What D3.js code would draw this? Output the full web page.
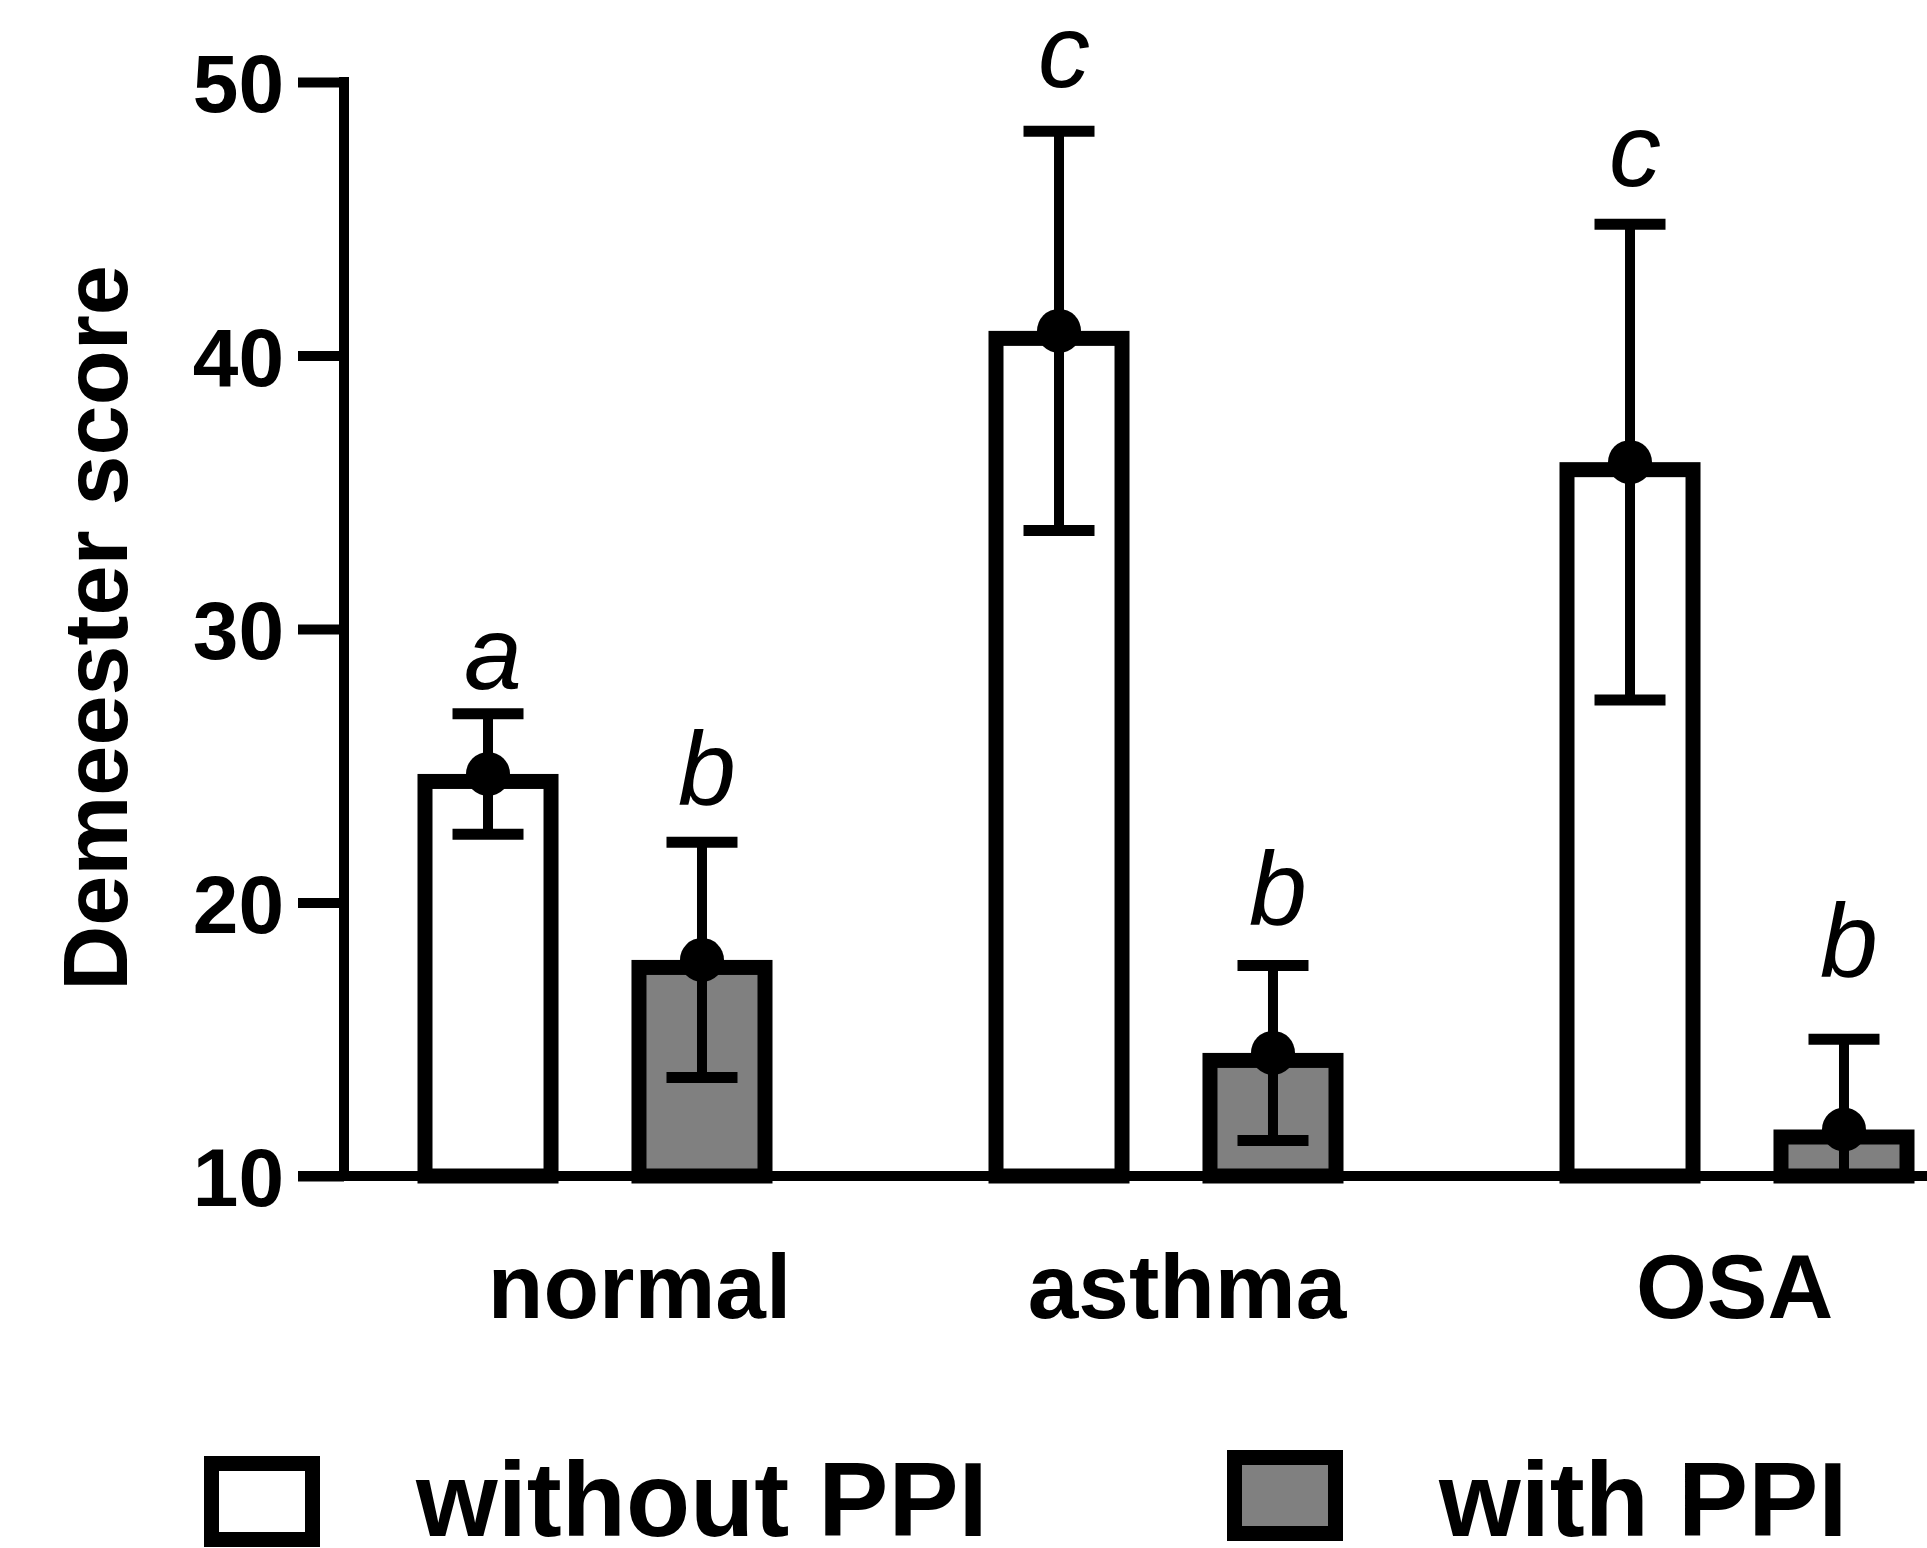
<!DOCTYPE html>
<html>
<head>
<meta charset="utf-8">
<script src="https://cdn.jsdelivr.net/npm/d3@7"></script>
<style>
  html, body { margin: 0; padding: 0; background: #fff; }
  svg { display: block; }
  text { font-family: "Liberation Sans", Arial, Helvetica, sans-serif; fill: #000; }
</style>
</head>
<body>
<svg id="chart" width="1927" height="1548"></svg>
<script>
// ---- data ----
const categories = ["normal", "asthma", "OSA"];
const series = ["without PPI", "with PPI"];
const withoutMean = [24.7, 40.9, 36.1];
const withoutSD = [2.2, 7.3, 8.7];
const withMean = [17.9, 14.5, 11.7];
const withSD = [4.3, 3.2, 3.3];
const withoutLetters = ["a", "c", "c"];
const withLetters = ["b", "b", "b"];
const withoutLetterAt = [27.8, 49.8, 46.2];   // letter baseline, in score units
const withLetterAt = [23.6, 19.2, 17.3];
const yTicks = [10, 20, 30, 40, 50];
const yLabel = "Demeester score";
const fills = ["#ffffff", "#808080"];

// ---- layout ----
const W = 1927, H = 1548;
const svg = d3.select("#chart");
const SW = 15; // bar outline width

const y = d3.scaleLinear().domain([10, 50]).range([1176, 82]);
const xGroup = d3.scalePoint().domain(categories).range([595, 1737]);
const xSeries = d3.scaleBand().domain(series).range([-177.5, 177.5]).paddingInner(0.341).paddingOuter(0);
const xLabel = d3.scalePoint().domain(categories).range([639, 1734]);

const rows = [];
categories.forEach((c, i) => {
  rows.push({cat: c, s: series[0], mean: withoutMean[i], sd: withoutSD[i], letter: withoutLetters[i], lAt: withoutLetterAt[i], fill: fills[0]});
  rows.push({cat: c, s: series[1], mean: withMean[i], sd: withSD[i], letter: withLetters[i], lAt: withLetterAt[i], fill: fills[1]});
});
const cx = d => xGroup(d.cat) + xSeries(d.s) + xSeries.bandwidth() / 2;

// clip to plot area (values below 10 hidden)
svg.append("defs").append("clipPath").attr("id", "plotclip")
  .append("rect").attr("x", 0).attr("y", 0).attr("width", W).attr("height", y(10));

// bars (outline drawn inside the value)
svg.append("g").selectAll("rect").data(rows).join("rect")
  .attr("x", d => xGroup(d.cat) + xSeries(d.s) + SW / 2)
  .attr("y", d => y(d.mean) + SW / 2)
  .attr("width", xSeries.bandwidth() - SW)
  .attr("height", d => y(10) - y(d.mean) - SW / 2)
  .attr("fill", d => d.fill)
  .attr("stroke", "#000")
  .attr("stroke-width", SW);

// error bars
const eb = svg.append("g").attr("clip-path", "url(#plotclip)");
eb.selectAll("line.stem").data(rows).join("line").attr("class", "stem")
  .attr("x1", cx).attr("x2", cx)
  .attr("y1", d => y(d.mean + d.sd)).attr("y2", d => y(d.mean - d.sd))
  .attr("stroke", "#000").attr("stroke-width", 10);
const capW = 71;
eb.selectAll("line.capT").data(rows).join("line").attr("class", "capT")
  .attr("x1", d => cx(d) - capW / 2).attr("x2", d => cx(d) + capW / 2)
  .attr("y1", d => y(d.mean + d.sd)).attr("y2", d => y(d.mean + d.sd))
  .attr("stroke", "#000").attr("stroke-width", 11);
eb.selectAll("line.capB").data(rows).join("line").attr("class", "capB")
  .attr("x1", d => cx(d) - capW / 2).attr("x2", d => cx(d) + capW / 2)
  .attr("y1", d => y(d.mean - d.sd)).attr("y2", d => y(d.mean - d.sd))
  .attr("stroke", "#000").attr("stroke-width", 11);

// mean dots
svg.append("g").selectAll("circle").data(rows).join("circle")
  .attr("cx", cx).attr("cy", d => y(d.mean)).attr("r", 22).attr("fill", "#000");

// significance letters
svg.append("g").selectAll("text").data(rows).join("text")
  .attr("x", d => cx(d) + 5).attr("y", d => y(d.lAt))
  .attr("text-anchor", "middle")
  .style("font-size", "104px").style("font-style", "italic")
  .text(d => d.letter);

// y axis
const yAxis = d3.axisLeft(y).tickValues(yTicks).tickSize(46).tickPadding(14).tickFormat(d3.format("d"));
const gy = svg.append("g").attr("transform", "translate(344,0)").call(yAxis);
gy.select(".domain").remove();
gy.selectAll(".tick line").attr("stroke", "#000").attr("stroke-width", 10);
gy.selectAll(".tick text").style("font-size", "82px").style("font-weight", "bold")
  .attr("dy", "0.36em").attr("x", -60);
svg.append("line").attr("x1", 344).attr("x2", 344).attr("y1", y(50) - 5).attr("y2", y(10) + 5)
  .attr("stroke", "#000").attr("stroke-width", 10);

// x axis line (extends past the right edge)
svg.append("line").attr("x1", 298).attr("x2", W + 10).attr("y1", y(10)).attr("y2", y(10))
  .attr("stroke", "#000").attr("stroke-width", 10);

// category labels
const xAxis = d3.axisBottom(xLabel).tickSize(0).tickPadding(0);
const gx = svg.append("g").attr("transform", "translate(0,1318)").call(xAxis);
gx.select(".domain").remove();
gx.selectAll(".tick text").attr("y", 0).attr("dy", 0)
  .style("font-size", "91px").style("font-weight", "bold");

// y title
svg.append("text")
  .attr("transform", "translate(127,628) rotate(-90)")
  .attr("text-anchor", "middle")
  .style("font-size", "90px").style("font-weight", "bold")
  .text(yLabel);

// legend
const legX = [204, 1227];
const legBoxY = [1456, 1450];
const leg = svg.append("g").selectAll("g").data(series).join("g");
leg.append("rect")
  .attr("x", (d, i) => legX[i] + SW / 2)
  .attr("y", (d, i) => legBoxY[i] + SW / 2)
  .attr("width", 116 - SW).attr("height", 91 - SW)
  .attr("fill", (d, i) => fills[i]).attr("stroke", "#000").attr("stroke-width", SW);
leg.append("text")
  .attr("x", (d, i) => legX[i] + 212)
  .attr("y", 1536)
  .style("font-size", "105px").style("font-weight", "bold")
  .text(d => d);
</script>
</body>
</html>
